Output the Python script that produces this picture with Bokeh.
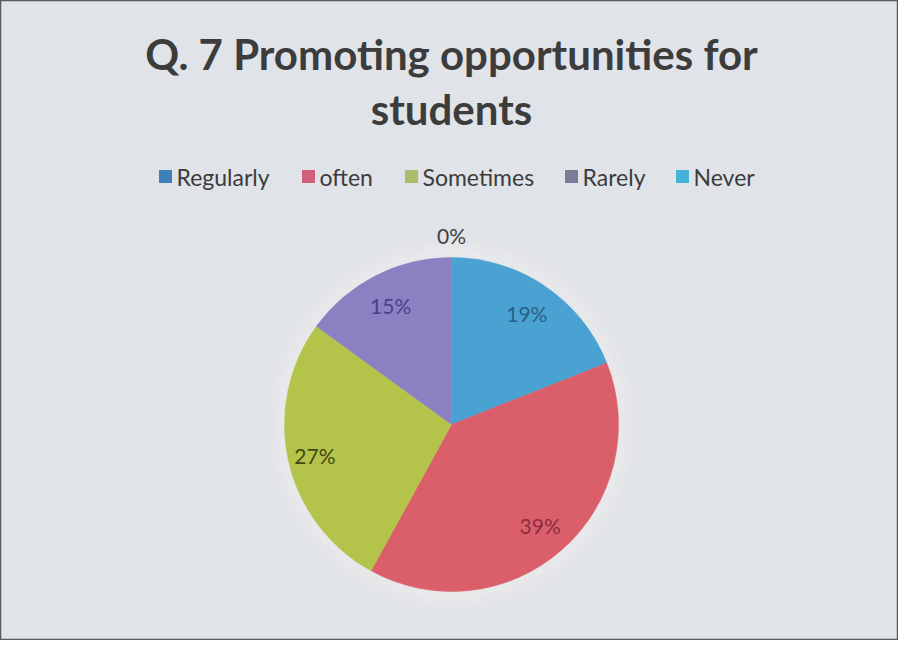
import math
from bokeh.plotting import figure
from bokeh.models import Range1d, ColumnDataSource
from bokeh.core.properties import value
from bokeh.embed import file_html
from bokeh.resources import INLINE

# ---- data ----
categories = ["Regularly", "often", "Sometimes", "Rarely", "Never"]
percents = [19, 39, 27, 15, 0]
slice_colors = ["#4aa2d2", "#da5f6a", "#b4c34a", "#8a80c2", "#45b3d8"]
legend_colors = ["#3f80b8", "#d0607a", "#a9bd6a", "#7d7a9a", "#45b3d8"]
label_colors = ["#2c5f86", "#8c2c40", "#3e4a12", "#4a3f8a", "#404040"]
title_lines = ["Q. 7 Promoting opportunities for", "students"]

W, H = 898, 640
p = figure(width=W, height=H, output_backend="svg", toolbar_location=None,
           x_range=Range1d(0, W), y_range=Range1d(0, H), min_border=0)
p.axis.visible = False
p.grid.visible = False
p.background_fill_color = "#e0e3e8"
p.border_fill_color = "#e0e3e8"
p.outline_line_color = "#5a5a5a"
p.outline_line_width = 1.5

FONT = value("Lato")

# title
p.text(x=[451, 451], y=[587, 532], text=title_lines, text_font=FONT,
       text_font_size="42px", text_font_style="bold", text_color="#3c3c3c",
       text_align="center", text_baseline="middle")

# legend (manual)
leg_sq_x = [165, 308, 411, 571, 682]
leg_y = 464
p.rect(x=leg_sq_x, y=[leg_y] * 5, width=13, height=13, fill_color=legend_colors,
       line_color=None)
p.text(x=[xx + 11 for xx in leg_sq_x], y=[leg_y] * 5, text=categories,
       text_font=FONT, text_font_size="23px", text_color="#3c3c3c",
       text_align="left", text_baseline="middle")

# pie
cx, cy, R = 451, 216, 167
total = sum(percents)
starts, ends, lx, ly, cols, labs, lcols = [], [], [], [], [], [], []
wstart, wend, wcol = [], [], []
cum = 0.0
for v, c, lc in zip(percents, slice_colors, label_colors):
    frac0 = cum / total
    cum += v
    frac1 = cum / total
    mid = math.pi / 2 - 2 * math.pi * (frac0 + frac1) / 2
    r = 134 if v > 0 else 189
    if v == 27:
        r = 140
    lx.append(cx + r * math.cos(mid))
    ly.append(cy + r * math.sin(mid))
    labs.append(f"{v}%")
    lcols.append(lc)
    if v > 0:
        wstart.append(math.pi / 2 - 2 * math.pi * frac0)
        wend.append(math.pi / 2 - 2 * math.pi * frac1)
        wcol.append(c)

# soft glow behind pie
for extra, a in [(22, 0.10), (15, 0.14), (8, 0.18)]:
    p.circle(x=[cx], y=[cy], radius=R + extra, fill_color="#f4f5f0",
             fill_alpha=a, line_color=None)

wsrc = ColumnDataSource(dict(start=wstart, end=wend, color=wcol))
p.wedge(x=cx, y=cy, radius=R, start_angle="start", end_angle="end",
        direction="clock", fill_color="color", line_color="color",
        line_width=0.5, source=wsrc)

lsrc = ColumnDataSource(dict(lx=lx, ly=ly, lab=labs, lc=lcols))
p.text(x="lx", y="ly", text="lab", text_color="lc", text_font=FONT,
       text_font_size="21px", text_align="center", text_baseline="middle",
       source=lsrc)

open("out.html", "w").write(file_html(p, INLINE))
